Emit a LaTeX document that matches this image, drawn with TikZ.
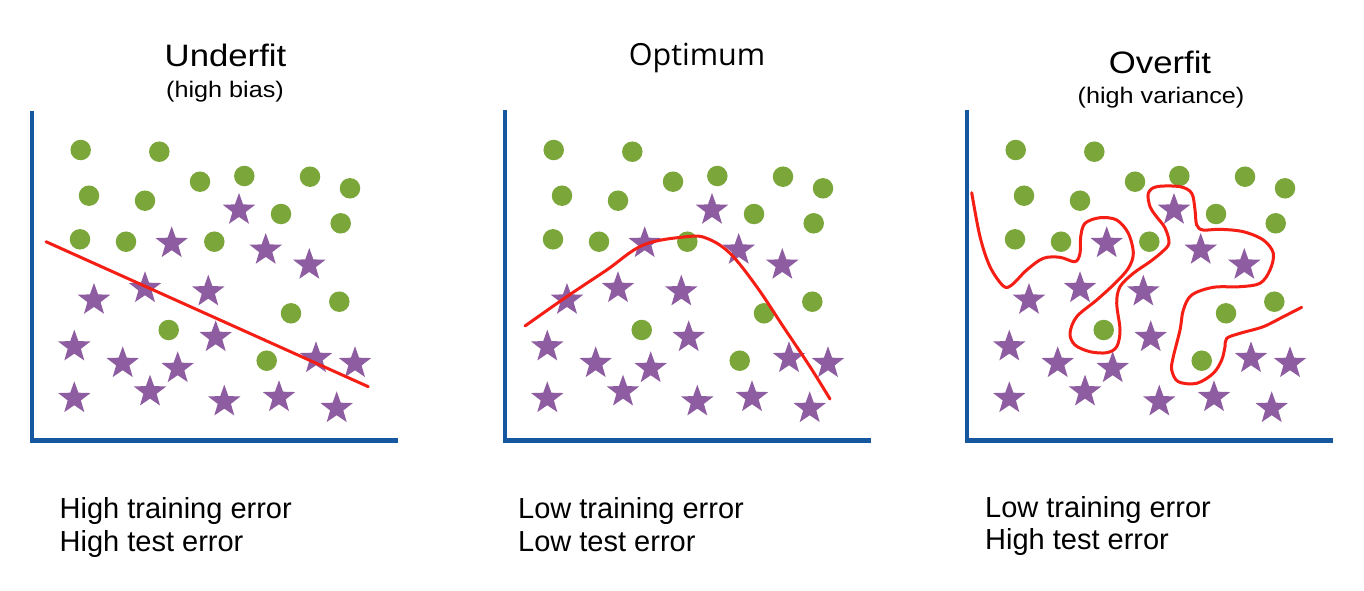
\documentclass[tikz,border=0pt]{standalone}
\usepackage{fontspec}
\setmainfont{Liberation Sans}
\newfontfamily\titlefont{Liberation Sans}[FakeStretch=1.12]
\newfontfamily\optfont{Open Sans}
\usetikzlibrary{shapes.geometric}
\definecolor{ptgreen}{RGB}{122,166,58}
\definecolor{ptpurple}{RGB}{142,92,160}
\definecolor{fitred}{RGB}{245,30,20}
\definecolor{axisblue}{RGB}{22,88,160}
\tikzset{
  dot/.style={circle,fill=ptgreen,draw=none,inner sep=0pt,minimum size=20.5pt},
  starpt/.style={star,star points=5,star point ratio=2.45,fill=ptpurple,draw=none,inner sep=0pt,minimum size=34pt},
  axisline/.style={draw=axisblue,line width=4.5pt,line cap=butt,line join=miter},
  fitline/.style={draw=fitred,line width=3pt,line cap=round,line join=round},
  bigtitle/.style={font=\titlefont\fontsize{31}{36}\selectfont,anchor=base,inner sep=0pt},
  subtitle/.style={font=\titlefont\fontsize{22.5}{26}\selectfont,anchor=base,inner sep=0pt},
  errtext/.style={font=\fontsize{29}{33}\selectfont,anchor=base west,inner sep=0pt}
}
\newcommand\drawpoints[1]{%
  \foreach \px/\py [count=\i] in {80.7/150,159.3/151.7,200/181.7,244.3/176,310/176.7,350/188.3,89/195.7,145/200.7,281/214,340.7/223.3,80/239.3,126/241.7,214.3/241.7,339.3/301.7,291/313.3,168.7/330,266.7/360.7}
    \node[dot] (#1c\i) at (\px,\py) {};
  \foreach \px/\py [count=\i] in {239/210,171.7/243.3,265.7/250,309.3/265,94/300,145/288.3,208.3/291.7,215.7/337.3,74.3/346.7,122.7/363.3,177.7/368.3,316/358.3,355/363.3,74.3/398.3,150/391.7,224.3/401.7,279/397.3,336.7/408.3}
    \node[starpt] (#1s\i) at (\px,\py) {};
}
\begin{document}
\begin{tikzpicture}[x=1pt,y=-1pt]
\useasboundingbox[fill=white] (0,0) rectangle (1364,591);

% ---------- Panel 1: Underfit ----------
\node[bigtitle] (t1) at (225.5,66.5) {Underfit};
\node[subtitle] (st1) at (225,98) {(high bias)};
\coordinate (a1top) at (32,111);
\coordinate (a1org) at (32,440.5);
\coordinate (a1end) at (398,440.5);
\draw[axisline] (a1top) -- (a1org) -- (a1end);
\begin{scope}
  \drawpoints{p}
\end{scope}
\coordinate (f1a) at (46,241.7);
\coordinate (f1b) at (368.3,386.7);
\draw[fitline] (f1a) -- (f1b);
\node[errtext] (e1a) at (59.5,518.3) {High training error};
\node[errtext] (e1b) at (59.5,551) {High test error};

% ---------- Panel 2: Optimum ----------
\node[font=\optfont\fontsize{30.5}{36}\selectfont,anchor=base,inner sep=0pt] (t2) at (697,66) {Optimum};
\coordinate (a2top) at (505,110);
\coordinate (a2org) at (505,440.5);
\coordinate (a2end) at (871,440.5);
\draw[axisline] (a2top) -- (a2org) -- (a2end);
\begin{scope}[xshift=473pt]
  \drawpoints{q}
\end{scope}
\draw[fitline] plot[smooth,tension=0.6] coordinates {(525,326) (566.7,296.7) (606.7,270) (643.3,245) (686.7,236.7) (706.7,238.3) (730,253.3) (756.7,286.7) (783.3,326.7) (810,366.7) (830,399)};
\node[errtext] (e2a) at (518,518.3) {Low training error};
\node[errtext] (e2b) at (518,551) {Low test error};

% ---------- Panel 3: Overfit ----------
\node[bigtitle] (t3) at (1160,73.3) {Overfit};
\node[subtitle] (st3) at (1161,103) {(high variance)};
\coordinate (a3top) at (967,110);
\coordinate (a3org) at (967,440.5);
\coordinate (a3end) at (1333,440.5);
\draw[axisline] (a3top) -- (a3org) -- (a3end);
\begin{scope}[xshift=935pt]
  \drawpoints{r}
\end{scope}
\draw[fitline] plot[smooth,tension=0.55] coordinates {(971.7,192.7) (980,236.7) (990,266.7) (1003.3,286) (1011.7,285) (1026.7,270) (1043.3,258.3) (1060,257.3) (1075,261.7) (1080,253.3) (1080.7,236.7) (1085,223.3) (1100,217.7) (1116.7,220) (1128.3,233.3) (1133.3,253.3) (1128.3,268.3) (1115,283.3) (1096.7,300) (1076.7,316.7) (1070,333.3) (1075,345) (1090,351.7) (1106.7,352.7) (1116.7,346.7) (1120,330) (1116.7,303.3) (1120,286.7) (1133.3,273.3) (1150,261.7) (1162,252) (1169,243) (1165,228) (1156,216) (1150,206.7) (1148.3,193.3) (1156.7,186.7) (1180,186.7) (1191.7,193.3) (1195,210) (1196.7,225) (1203,230) (1220,229.3) (1243.3,231.7) (1263.3,240) (1273.3,253.3) (1270,270) (1260,283.3) (1240,286.7) (1213.3,287.3) (1191.7,295) (1183.3,310) (1180,330) (1173.3,356.7) (1171.7,370) (1178.3,381.7) (1196.7,383.3) (1213.3,373.3) (1221.7,360) (1225,346.7) (1226.7,338.3) (1240,333.3) (1263.3,326.7) (1283.3,316.7) (1301.7,307.3)};
\node[errtext] (e3a) at (985,517.3) {Low training error};
\node[errtext] (e3b) at (985,549.5) {High test error};
\end{tikzpicture}
\end{document}
